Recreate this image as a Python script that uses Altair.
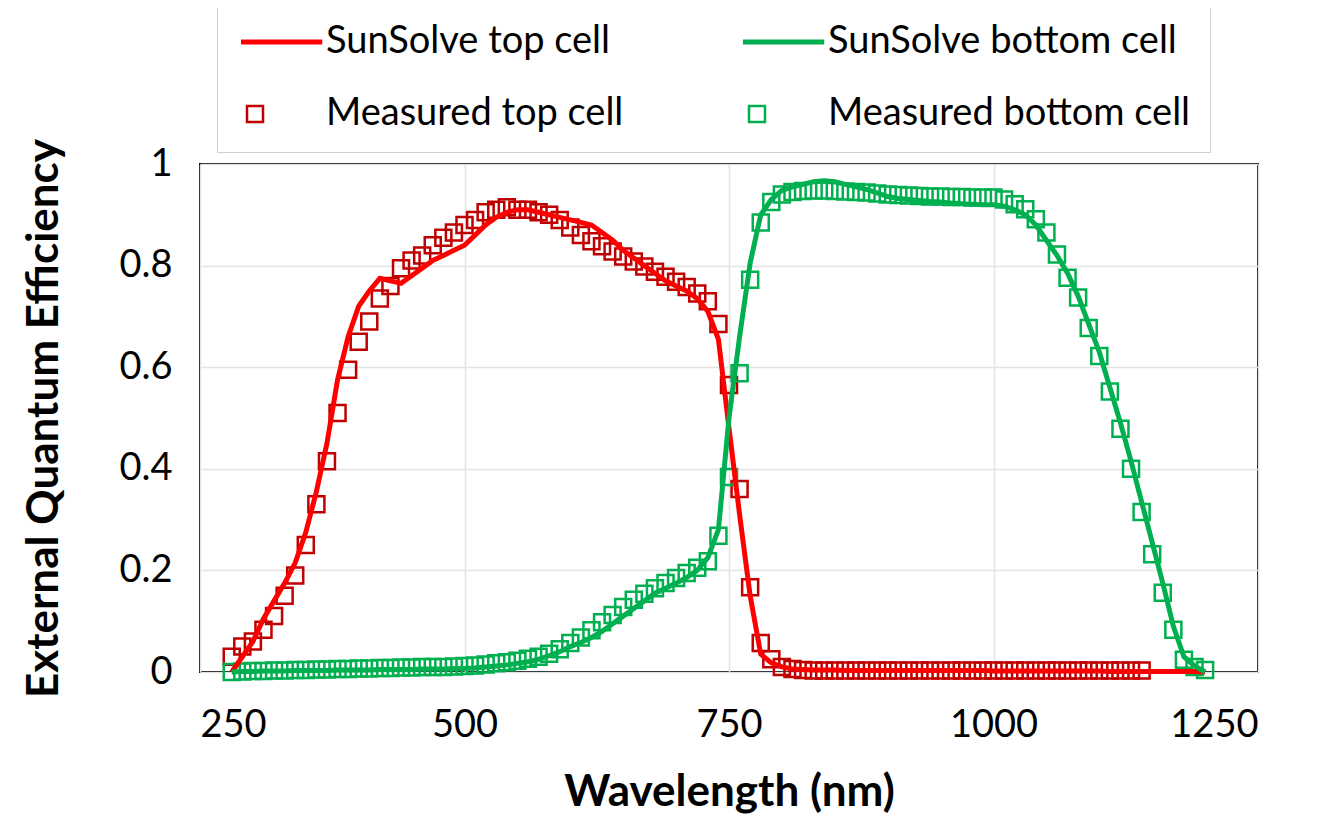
import altair as alt
import pandas as pd

# Wavelength grid (nm) shared by the series
WL = [280, 290, 300, 310, 320, 330, 340, 350, 360, 370, 380, 390, 400, 410, 420,
      430, 440, 450, 460, 470, 480, 490, 500, 510, 520, 530, 540, 550, 560, 570,
      580, 590, 600, 610, 620, 630, 640, 650, 660, 670, 680, 690, 700, 710, 720,
      730, 740, 750, 760, 770, 780, 790, 800, 810, 820, 830, 840, 850, 860, 870,
      880, 890, 900, 910, 920, 930, 940, 950, 960, 970, 980, 990, 1000, 1010, 1020,
      1030, 1040, 1050, 1060, 1070, 1080, 1090, 1100, 1110, 1120, 1130, 1140, 1150,
      1160, 1170, 1180, 1190, 1200]

SUNSOLVE_TOP = [0.00, 0.03, 0.06, 0.105, 0.14, 0.175, 0.215, 0.275, 0.355, 0.45,
                0.575, 0.66, 0.72, 0.75, 0.775, 0.77, 0.765, 0.78, 0.795, 0.81,
                0.82, 0.83, 0.84, 0.86, 0.88, 0.895, 0.905, 0.91, 0.91, 0.905,
                0.90, 0.895, 0.89, 0.885, 0.88, 0.865, 0.85, 0.83, 0.815, 0.80,
                0.785, 0.77, 0.76, 0.75, 0.735, 0.71, 0.655, 0.48, 0.31, 0.15,
                0.035, 0.018, 0.01, 0.006, 0.005,
                0.004, 0.004, 0.004, 0.003, 0.003, 0.003, 0.003, 0.003, 0.003, 0.003,
                0.003, 0.003, 0.003, 0.003, 0.003, 0.003, 0.003, 0.002, 0.002, 0.002,
                0.002, 0.002, 0.002, 0.002, 0.002, 0.002, 0.002, 0.002, 0.001, 0.001,
                0.001, 0.001, 0.001, 0.001, 0.001, 0.001, 0.001, 0.0]

SUNSOLVE_BOTTOM = [0.0, 0.001, 0.001, 0.002, 0.002, 0.002, 0.003, 0.003, 0.003, 0.003,
                   0.004, 0.004, 0.004, 0.004, 0.005, 0.005, 0.005, 0.005, 0.006, 0.006,
                   0.006, 0.007, 0.007, 0.008, 0.01, 0.012, 0.014, 0.017, 0.02, 0.025,
                   0.032, 0.04, 0.05, 0.058, 0.068, 0.08, 0.095, 0.11, 0.125, 0.14,
                   0.155, 0.165, 0.175, 0.186, 0.2, 0.225, 0.28, 0.5, 0.66, 0.805,
                   0.9, 0.93, 0.948, 0.955, 0.96, 0.965, 0.967, 0.965, 0.96, 0.955,
                   0.95, 0.943, 0.936, 0.932, 0.93, 0.928, 0.926, 0.925, 0.923, 0.922,
                   0.921, 0.92, 0.92, 0.917, 0.91, 0.9, 0.88, 0.85, 0.82, 0.785,
                   0.74, 0.685, 0.63, 0.56, 0.49, 0.415, 0.335, 0.255, 0.175, 0.09,
                   0.03, 0.012, 0.0]

MEASURED_TOP = [0.03, 0.05, 0.06, 0.083, 0.11, 0.15, 0.19, 0.25, 0.33, 0.415,
                0.51, 0.595, 0.65, 0.69, 0.735, 0.76, 0.795, 0.81, 0.82, 0.84,
                0.855, 0.865, 0.88, 0.89, 0.905, 0.91, 0.915, 0.91, 0.91, 0.905,
                0.90, 0.89, 0.875, 0.86, 0.848, 0.838, 0.828, 0.818, 0.808, 0.798,
                0.788, 0.778, 0.768, 0.758, 0.745, 0.73, 0.685, 0.565, 0.36, 0.167,
                0.057, 0.025, 0.01, 0.006, 0.004,
                0.003, 0.003, 0.003, 0.003, 0.003, 0.003, 0.003, 0.003, 0.003, 0.003,
                0.003, 0.003, 0.003, 0.003, 0.003, 0.003, 0.003, 0.003, 0.003, 0.003,
                0.003, 0.003, 0.003, 0.003, 0.003, 0.003, 0.003, 0.003, 0.003, 0.003,
                0.003, 0.003]

MEASURED_BOTTOM = [0.0, 0.001, 0.002, 0.002, 0.003, 0.003, 0.004, 0.004, 0.005, 0.005,
                   0.006, 0.006, 0.007, 0.007, 0.008, 0.008, 0.009, 0.009, 0.01, 0.01,
                   0.01, 0.011, 0.012, 0.013, 0.015, 0.017, 0.019, 0.022, 0.026, 0.03,
                   0.036, 0.045, 0.057, 0.068, 0.082, 0.098, 0.112, 0.128, 0.142, 0.154,
                   0.165, 0.175, 0.185, 0.195, 0.205, 0.218, 0.268, 0.384, 0.588, 0.772,
                   0.885, 0.925, 0.94, 0.945, 0.947, 0.948, 0.948, 0.947, 0.946, 0.945,
                   0.944, 0.942, 0.94, 0.939, 0.938, 0.937, 0.936, 0.936, 0.935, 0.935,
                   0.934, 0.934, 0.934, 0.93, 0.921, 0.911, 0.891, 0.865, 0.822, 0.776,
                   0.737, 0.677, 0.622, 0.552, 0.479, 0.40, 0.315, 0.232, 0.156, 0.083,
                   0.024, 0.01, 0.004]

# legend order: the grid fills column by column
SERIES = ["SunSolve top cell", "Measured top cell", "SunSolve bottom cell", "Measured bottom cell"]
COLORS = ["#FF0000", "#C00000", "#00B050", "#00B050"]
# legend glyphs: a thick line for the model curves, a square for the measurements
LINE_GLYPH = "M-1.6,-0.16H8.25V0.16H-1.6Z"
SHAPES = [LINE_GLYPH, "square", LINE_GLYPH, "square"]

assert len(SUNSOLVE_TOP) == len(WL), len(SUNSOLVE_TOP)
assert len(SUNSOLVE_BOTTOM) == len(WL), len(SUNSOLVE_BOTTOM)
assert len(MEASURED_BOTTOM) == len(WL), len(MEASURED_BOTTOM)

n_top = len(MEASURED_TOP)
lines_df = pd.DataFrame({
    "wl": WL + WL,
    "eqe": SUNSOLVE_TOP + SUNSOLVE_BOTTOM,
    "series": ["SunSolve top cell"] * len(WL) + ["SunSolve bottom cell"] * len(WL),
})
pts_df = pd.DataFrame({
    "wl": WL[:n_top] + WL,
    "eqe": MEASURED_TOP + MEASURED_BOTTOM,
    "series": ["Measured top cell"] * n_top + ["Measured bottom cell"] * len(WL),
})

FONT = "Lato"

legend = alt.Legend(
    title=None, orient="none", legendX=17, legendY=-160, columns=2,
    columnPadding=114, rowPadding=34, padding=19,
    strokeColor="#d0d0d0", fillColor="white",
    labelFont=FONT, labelFontSize=38, labelColor="black", labelLimit=600,
    labelOffset=52, symbolSize=256, symbolStrokeWidth=2.5, symbolOpacity=1,
)

x = alt.X("wl:Q", scale=alt.Scale(domain=[250, 1250], nice=False, zero=False),
          axis=alt.Axis(values=[250, 500, 750, 1000, 1250], format="d",
                        title="Wavelength (nm)",
                        labelPadding=34, titlePadding=26))
y = alt.Y("eqe:Q", scale=alt.Scale(domain=[0, 1], nice=False),
          axis=alt.Axis(values=[0, 0.2, 0.4, 0.6, 0.8, 1], format="~g",
                        title="External Quantum Efficiency",
                        labelPadding=28, titlePadding=52))
color = alt.Color("series:N", scale=alt.Scale(domain=SERIES, range=COLORS), legend=legend)
shape = alt.Shape("series:N", scale=alt.Scale(domain=SERIES, range=SHAPES), legend=legend)

points = alt.Chart(pts_df).mark_point(filled=False, size=256, strokeWidth=2.5, opacity=1).encode(
    x=x, y=y, color=color, shape=shape)
lines = alt.Chart(lines_df).mark_line(strokeWidth=5).encode(
    x=x, y=y, color=color)

chart = alt.layer(points, lines).properties(
    width=1058, height=508,
    autosize=alt.AutoSizeParams(type="none"),
    padding={"left": 192, "top": 156, "right": 60, "bottom": 146},
).configure_view(
    stroke="black", strokeWidth=2
).configure_axis(
    labelFont=FONT, labelFontSize=38, labelColor="black",
    titleFont=FONT, titleFontSize=44, titleFontWeight="bold", titleColor="black",
    ticks=False, domain=False, grid=True, gridColor="#e3e3e3", gridWidth=1.5,
)

chart.save("out.html", embed_options={"renderer": "svg", "actions": False})
